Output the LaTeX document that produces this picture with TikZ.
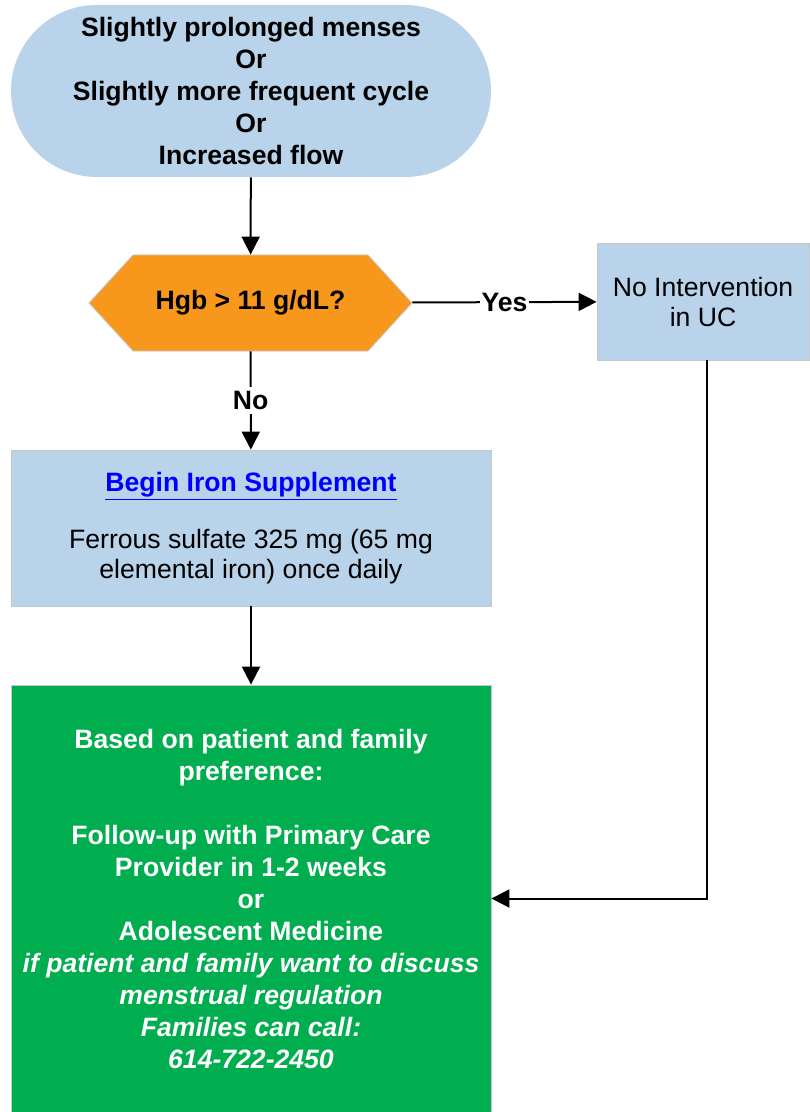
\documentclass[tikz,border=0pt]{standalone}
\usepackage{fontspec}
\setmainfont{Liberation Sans}
\usetikzlibrary{arrows.meta}
\definecolor{boxblue}{RGB}{185,211,234}
\definecolor{hexorange}{RGB}{247,152,29}
\definecolor{boxgreen}{RGB}{0,173,79}
\definecolor{boxline}{RGB}{200,200,200}
\definecolor{linkblue}{RGB}{0,0,255}

\begin{document}
\begin{tikzpicture}[x=0.5pt, y=-0.5pt,
    every node/.style={font=\fontsize{13.3}{16}\selectfont, align=center},
    bluebox/.style={fill=boxblue, draw=boxline, line width=0.4pt, inner sep=0pt},
    flowarrow/.style={line width=1pt, -{Triangle[length=9pt, width=9pt]}}]
                        \useasboundingbox (0,0) rectangle (809,1112);
                        % Boxes:
                        \node[fill=boxblue, rounded corners=42.9pt, minimum width=240pt, minimum height=86pt, font=\bfseries\fontsize{13.3}{16}\selectfont]
                            (start) at (251,91) {Slightly prolonged menses\\Or\\Slightly more frequent cycle\\Or\\Increased flow};
                        \draw[fill=hexorange, draw=boxline, line width=0.4pt] (89,303) -- (133,255) -- (368,255) -- (412,303) -- (368,351) -- (133,351) -- cycle;
                        \node[minimum width=161.5pt, minimum height=48pt, inner sep=0pt, font=\bfseries\fontsize{13.3}{16}\selectfont]
                            (hgb) at (250.5,303) {Hgb > 11 g/dL?};
                        \node[bluebox, minimum width=106pt, minimum height=58.5pt, font=\fontsize{13.3}{15}\selectfont]
                            (nointv) at (703,301.5) {No Intervention\\in UC};
                        \node[bluebox, minimum width=240pt, minimum height=78pt, font=\fontsize{13.3}{15}\selectfont]
                            (iron) at (251,528) {\textbf{\textcolor{linkblue}{\underline{Begin Iron Supplement}}}\\[13.5pt]Ferrous sulfate 325 mg (65 mg\\elemental iron) once daily};
                        \node[fill=boxgreen, draw=boxline, line width=0.4pt, minimum width=240pt, minimum height=213.5pt, inner sep=0pt, text=white,
                              font=\bfseries\fontsize{13.3}{16}\selectfont]
                            (followup) at (251,898.5) {Based on patient and family\\preference:\\[16pt]Follow-up with Primary Care\\Provider in 1-2 weeks\\or\\Adolescent Medicine\\
                            \itshape if patient and family want to discuss\\\itshape menstrual regulation\\\itshape Families can call:\\\itshape 614-722-2450};
                        % Connectors:
                        \draw[flowarrow] (start) -- (hgb);
                        \draw[flowarrow] (hgb) -- node[fill=white, inner sep=1pt, font=\bfseries\fontsize{13.3}{16}\selectfont] {Yes} (nointv);
                        \draw[flowarrow] (hgb) -- node[fill=white, inner sep=2pt, font=\bfseries\fontsize{13.3}{16}\selectfont] {No} (iron);
                        \draw[flowarrow] (iron) -- (followup);
                        \draw[flowarrow] ([xshift=2pt]nointv.south) |- (followup.east);
                    \end{tikzpicture}
\end{document}
